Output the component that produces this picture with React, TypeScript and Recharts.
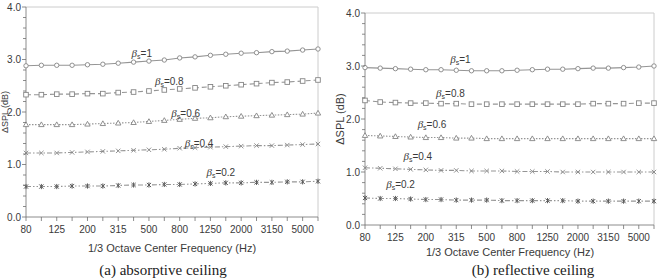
import React from "react";
import { LineChart, Line, XAxis, YAxis, ReferenceLine } from "recharts";

// 1/3 octave band centre frequencies (Hz)
const FREQS = [
  "80", "100", "125", "160", "200", "250", "315", "400", "500", "630",
  "800", "1000", "1250", "1600", "2000", "2500", "3150", "4000", "5000", "6300",
];

// ΔSPL (dB), absorptive ceiling
const ABS_B10 = [2.88, 2.89, 2.89, 2.89, 2.9, 2.91, 2.93, 2.95, 2.97, 2.99, 3.03, 3.05, 3.08, 3.1, 3.12, 3.13, 3.15, 3.16, 3.18, 3.2];
const ABS_B08 = [2.33, 2.33, 2.34, 2.34, 2.35, 2.35, 2.37, 2.38, 2.4, 2.42, 2.44, 2.46, 2.48, 2.5, 2.52, 2.54, 2.56, 2.57, 2.59, 2.61];
const ABS_B06 = [1.76, 1.76, 1.76, 1.76, 1.77, 1.78, 1.79, 1.8, 1.82, 1.84, 1.86, 1.88, 1.89, 1.91, 1.92, 1.93, 1.94, 1.95, 1.96, 1.98];
const ABS_B04 = [1.22, 1.22, 1.22, 1.23, 1.24, 1.25, 1.26, 1.27, 1.28, 1.29, 1.31, 1.32, 1.33, 1.34, 1.35, 1.36, 1.36, 1.37, 1.38, 1.39];
const ABS_B02 = [0.58, 0.58, 0.58, 0.59, 0.59, 0.59, 0.6, 0.61, 0.61, 0.62, 0.62, 0.63, 0.64, 0.65, 0.65, 0.66, 0.66, 0.67, 0.67, 0.68];

// ΔSPL (dB), reflective ceiling
const REF_B10 = [2.97, 2.96, 2.95, 2.94, 2.93, 2.93, 2.92, 2.91, 2.91, 2.91, 2.92, 2.93, 2.94, 2.94, 2.95, 2.96, 2.96, 2.97, 2.98, 3.0];
const REF_B08 = [2.35, 2.32, 2.31, 2.3, 2.3, 2.29, 2.29, 2.28, 2.28, 2.28, 2.28, 2.28, 2.28, 2.28, 2.28, 2.29, 2.29, 2.29, 2.3, 2.3];
const REF_B06 = [1.69, 1.68, 1.67, 1.66, 1.65, 1.65, 1.64, 1.64, 1.63, 1.63, 1.63, 1.63, 1.63, 1.63, 1.63, 1.63, 1.63, 1.63, 1.63, 1.63];
const REF_B04 = [1.08, 1.07, 1.06, 1.05, 1.04, 1.03, 1.03, 1.02, 1.02, 1.02, 1.01, 1.01, 1.01, 1.0, 1.0, 1.0, 1.0, 1.0, 1.0, 1.0];
const REF_B02 = [0.51, 0.5, 0.5, 0.49, 0.48, 0.48, 0.47, 0.47, 0.47, 0.46, 0.46, 0.46, 0.46, 0.46, 0.45, 0.45, 0.45, 0.45, 0.45, 0.45];

const Y_TICKS = [0, 0.2, 0.4, 0.6, 0.8, 1, 1.2, 1.4, 1.6, 1.8, 2, 2.2, 2.4, 2.6, 2.8, 3, 3.2, 3.4, 3.6, 3.8, 4];
const BETA_NAMES = ["1", "0.8", "0.6", "0.4", "0.2"];

const AXIS = "#707070";
const FRAME = "#cccccc";
const LINE = "#959595";
const MARK = "#858585";
const TEXT = "#3a3a3a";

function buildRows(s: number[][]) {
  return FREQS.map((f, i) => ({
    f,
    b10: s[0][i],
    b08: s[1][i],
    b06: s[2][i],
    b04: s[3][i],
    b02: s[4][i],
  }));
}

const absRows = buildRows([ABS_B10, ABS_B08, ABS_B06, ABS_B04, ABS_B02]);
const refRows = buildRows([REF_B10, REF_B08, REF_B06, REF_B04, REF_B02]);

// ---- markers ----
const CircleDot = (p: any) => (
  <circle key={`c${p.index}`} cx={p.cx} cy={p.cy} r={2.2} fill="#fff" stroke={MARK} strokeWidth={0.9} />
);
const SquareDot = (p: any) => (
  <rect key={`s${p.index}`} x={p.cx - 2.3} y={p.cy - 2.3} width={4.6} height={4.6} fill="#fff" stroke={MARK} strokeWidth={0.9} />
);
const TriangleDot = (p: any) => (
  <polygon
    key={`t${p.index}`}
    points={`${p.cx},${p.cy - 2.7} ${p.cx - 2.7},${p.cy + 2} ${p.cx + 2.7},${p.cy + 2}`}
    fill="#fff"
    stroke={MARK}
    strokeWidth={0.9}
  />
);
const CrossDot = (p: any) => (
  <g key={`x${p.index}`} stroke={MARK} strokeWidth={0.9}>
    <line x1={p.cx - 2.2} y1={p.cy - 2.2} x2={p.cx + 2.2} y2={p.cy + 2.2} />
    <line x1={p.cx - 2.2} y1={p.cy + 2.2} x2={p.cx + 2.2} y2={p.cy - 2.2} />
  </g>
);
const StarDot = (p: any) => (
  <g key={`a${p.index}`} stroke="#5a5a5a" strokeWidth={1}>
    <line x1={p.cx - 2.1} y1={p.cy - 2.1} x2={p.cx + 2.1} y2={p.cy + 2.1} />
    <line x1={p.cx - 2.1} y1={p.cy + 2.1} x2={p.cx + 2.1} y2={p.cy - 2.1} />
    <line x1={p.cx} y1={p.cy - 2.6} x2={p.cx} y2={p.cy + 2.6} />
  </g>
);

// ---- axis ticks ----
const FreqTick = (p: any) => {
  const { x, y, index, payload } = p;
  return (
    <g>
      <line x1={x} x2={x} y1={y} y2={y + 4} stroke={AXIS} strokeWidth={0.8} />
      {index % 2 === 0 && (
        <text x={x} y={y + 16} textAnchor="middle" fontSize={10} fill={TEXT} fontFamily="Arial, 'Liberation Sans', sans-serif">
          {payload.value}
        </text>
      )}
    </g>
  );
};

const LevelTick = (p: any) => {
  const { x, y, payload } = p;
  const v = payload.value as number;
  const major = Math.abs(v - Math.round(v)) < 1e-6;
  return (
    <g>
      <line x1={x - (major ? 4 : 3)} x2={x} y1={y} y2={y} stroke={AXIS} strokeWidth={0.8} />
      {major && (
        <text x={x - 5} y={y + 3.5} textAnchor="end" fontSize={10} fill={TEXT} fontFamily="Arial, 'Liberation Sans', sans-serif">
          {v.toFixed(1)}
        </text>
      )}
    </g>
  );
};

// β label placed next to one chosen point of a curve
function betaLabel(name: string, at: number, dx: number, dy: number) {
  return (p: any) => {
    if (p.index !== at) return null;
    return (
      <text x={p.x + dx} y={p.y + dy} fontSize={10} fill={TEXT} fontFamily="Arial, 'Liberation Sans', sans-serif">
        <tspan fontStyle="italic" fontFamily="'Liberation Serif', serif" fontSize={11}>β</tspan>
        <tspan fontSize={7} dy={2}>s</tspan>
        <tspan dy={-2}>={name}</tspan>
      </text>
    );
  };
}

type LabelPos = [number, number, number];

function Panel({
  rows,
  width,
  height,
  margin,
  yWidth,
  labels,
}: {
  rows: any[];
  width: number;
  height: number;
  margin: { top: number; right: number; left: number; bottom: number };
  yWidth: number;
  labels: LabelPos[];
}) {
  const keys = ["b10", "b08", "b06", "b04", "b02"];
  const dashes = [undefined, "5 3", "1.5 1.5", "5 2 1.5 2", "5 2 1.5 2 1.5 2"];
  const dots = [CircleDot, SquareDot, TriangleDot, CrossDot, StarDot];
  return (
    <LineChart width={width} height={height} data={rows} margin={margin}>
      <XAxis
        dataKey="f"
        interval={0}
        height={23}
        tickSize={0}
        tickMargin={0}
        tickLine={false}
        tick={<FreqTick />}
        stroke={AXIS}
        strokeWidth={0.8}
      />
      <YAxis
        domain={[0, 4]}
        ticks={Y_TICKS}
        interval={0}
        width={yWidth}
        tickSize={0}
        tickMargin={0}
        tickLine={false}
        tick={<LevelTick />}
        stroke={AXIS}
        strokeWidth={0.8}
        allowDataOverflow
      />
      <ReferenceLine y={4} stroke={FRAME} strokeWidth={1} />
      <ReferenceLine x="6300" stroke={FRAME} strokeWidth={1} />
      {keys.map((k, i) => (
        <Line
          key={k}
          dataKey={k}
          type="linear"
          stroke={LINE}
          strokeWidth={1.1}
          strokeDasharray={dashes[i]}
          dot={dots[i]}
          activeDot={false}
          isAnimationActive={false}
          label={betaLabel(BETA_NAMES[i], labels[i][0], labels[i][1], labels[i][2])}
        />
      ))}
    </LineChart>
  );
}

const ABS_LABELS: LabelPos[] = [
  [7, -2, -5],
  [8, 6, -6],
  [9, 7, -3],
  [10, 5, -1],
  [12, -4, -7],
];
const REF_LABELS: LabelPos[] = [
  [6, -6, -7],
  [5, -5, -7],
  [3, 7, -9],
  [2, 8, -9],
  [1, 6, -11],
];

const sans = "Arial, 'Liberation Sans', sans-serif";
const serif = "'Times New Roman', 'Liberation Serif', serif";

export default function App() {
  return (
    <div style={{ position: "absolute", left: 0, top: 0, width: 658, height: 278, background: "#fff", overflow: "hidden" }}>
      <div style={{ position: "absolute", left: 0, top: 0 }}>
        <Panel rows={absRows} width={325} height={240} margin={{ top: 7, right: 7, left: 0, bottom: 0 }} yWidth={26} labels={ABS_LABELS} />
      </div>
      <div style={{ position: "absolute", left: 330, top: 0 }}>
        <Panel rows={refRows} width={328} height={248} margin={{ top: 13, right: 4, left: 0, bottom: 0 }} yWidth={35} labels={REF_LABELS} />
      </div>

      {/* axis titles */}
      <div style={{ position: "absolute", left: 72, width: 200, top: 242, textAlign: "center", fontFamily: sans, fontSize: 11, color: TEXT, whiteSpace: "nowrap" }}>
        1/3 Octave Center Frequency (Hz)
      </div>
      <div style={{ position: "absolute", left: 410, width: 200, top: 246, textAlign: "center", fontFamily: sans, fontSize: 11, color: TEXT, whiteSpace: "nowrap" }}>
        1/3 Octave Center Frequency (Hz)
      </div>
      <div style={{ position: "absolute", left: 5 - 30, top: 112 - 5, width: 60, height: 10, textAlign: "center", transform: "rotate(-90deg)", fontFamily: sans, fontSize: 9, color: TEXT, whiteSpace: "nowrap", lineHeight: "10px" }}>
        ΔSPL (dB)
      </div>
      <div style={{ position: "absolute", left: 340 - 40, top: 119 - 7, width: 80, textAlign: "center", transform: "rotate(-90deg)", fontFamily: sans, fontSize: 11, color: TEXT, whiteSpace: "nowrap", lineHeight: "14px" }}>
        ΔSPL (dB)
      </div>

      {/* sub-figure captions */}
      <div style={{ position: "absolute", left: 63, width: 200, top: 261, textAlign: "center", fontFamily: serif, fontSize: 15, color: "#222", whiteSpace: "nowrap", lineHeight: "18px" }}>
        (a) absorptive ceiling
      </div>
      <div style={{ position: "absolute", left: 433, width: 200, top: 261, textAlign: "center", fontFamily: serif, fontSize: 15, color: "#222", whiteSpace: "nowrap", lineHeight: "18px" }}>
        (b) reflective ceiling
      </div>
    </div>
  );
}
